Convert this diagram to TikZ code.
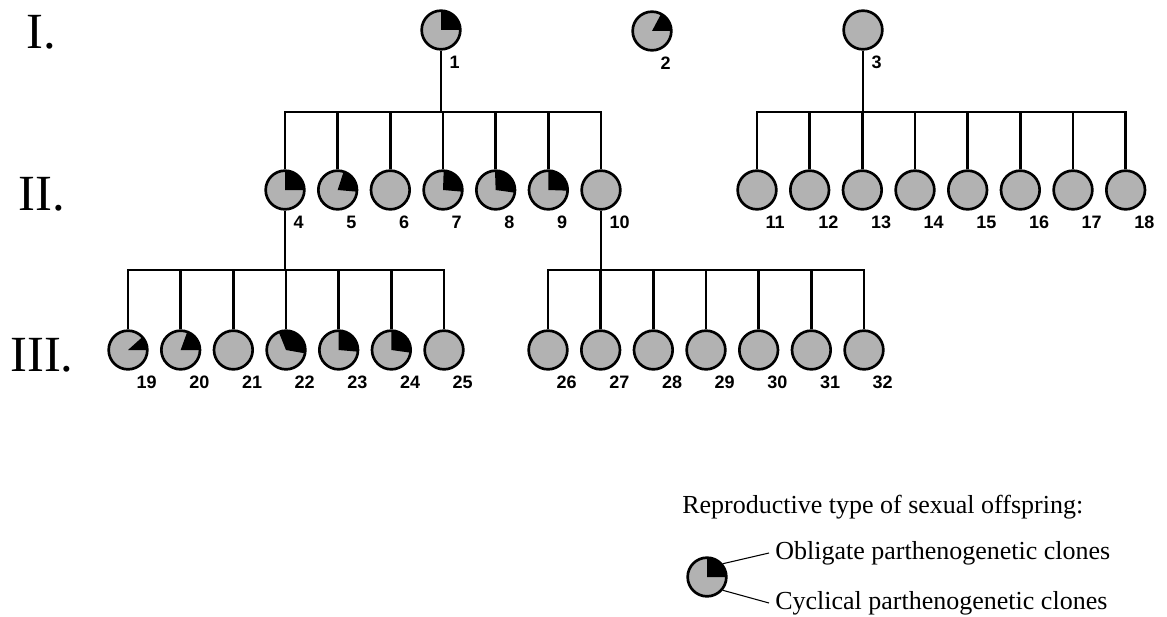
\documentclass[tikz,border=0pt]{standalone}
\usepackage{fontspec}
\setmainfont{Liberation Serif}
\newfontfamily\numfamily{Liberation Sans}
\usepackage{xcolor}
\usepackage{tikz}
\usetikzlibrary{positioning}
\definecolor{clonegray}{RGB}{178,178,178}
\tikzset{
  clone/.style={circle, draw=black, line width=2pt, fill=clonegray,
                minimum size=29pt, inner sep=0pt},
  obl/.style 2 args={path picture={\fill[black] (path picture bounding box.center)
                -- ++(#1:20pt) arc[start angle=#1, end angle=#2, radius=20pt] -- cycle;}},
  num/.style={font=\numfamily\bfseries\fontsize{13.5}{14}\selectfont,
              inner sep=0pt, anchor=north west, label distance=5pt},
  lab/.style={label={[num, name=lab#1]-72:#1}},
  gen/.style={font=\fontsize{38}{40}\selectfont, inner sep=0pt},
  legend/.style={font=\fontsize{19.5}{22}\selectfont, inner sep=4.5pt, anchor=west},
  link/.style={line width=1.9pt},
  pointer/.style={line width=0.8pt}
}
\begin{document}
\begin{tikzpicture}[x=0.75pt, y=0.75pt, on grid, node distance=39.5pt]
  \useasboundingbox (0,0) rectangle (1167,-617);

  % generations
  \node[gen] (gen1) at (41,-32) {I.};
  \node[gen] (gen2) at (42,-194) {II.};
  \node[gen] (gen3) at (42,-355) {III.};

  % generation I
  \node[clone, obl={90}{0}, lab=1] (c1) at (441,-30) {};
  \node[clone, obl={62}{0}, lab=2] (c2) at (652,-31) {};
  \node[clone, lab=3] (c3) at (863,-30) {};

  % generation II, offspring of 1
  \node[clone, obl={90}{0}, lab=4] (c4) at (285,-190) {};
  \node[clone, obl={72}{-5}, lab=5, right=of c4] (c5) {};
  \node[clone, lab=6, right=of c5] (c6) {};
  \node[clone, obl={88}{-5}, lab=7, right=of c6] (c7) {};
  \node[clone, obl={92}{-8}, lab=8, right=of c7] (c8) {};
  \node[clone, obl={90}{-2}, lab=9, right=of c8] (c9) {};
  \node[clone, lab=10, right=of c9] (c10) {};

  % generation II, offspring of 3
  \node[clone, lab=11] (c11) at (757,-190) {};
  \node[clone, lab=12, right=of c11] (c12) {};
  \node[clone, lab=13, right=of c12] (c13) {};
  \node[clone, lab=14, right=of c13] (c14) {};
  \node[clone, lab=15, right=of c14] (c15) {};
  \node[clone, lab=16, right=of c15] (c16) {};
  \node[clone, lab=17, right=of c16] (c17) {};
  \node[clone, lab=18, right=of c17] (c18) {};

  % generation III, offspring of 4
  \node[clone, obl={42}{0}, lab=19] (c19) at (128,-350) {};
  \node[clone, obl={70}{0}, lab=20, right=of c19] (c20) {};
  \node[clone, lab=21, right=of c20] (c21) {};
  \node[clone, obl={112}{-10}, lab=22, right=of c21] (c22) {};
  \node[clone, obl={90}{-5}, lab=23, right=of c22] (c23) {};
  \node[clone, obl={90}{-8}, lab=24, right=of c23] (c24) {};
  \node[clone, lab=25, right=of c24] (c25) {};

  % generation III, offspring of 10
  \node[clone, lab=26] (c26) at (548,-350) {};
  \node[clone, lab=27, right=of c26] (c27) {};
  \node[clone, lab=28, right=of c27] (c28) {};
  \node[clone, lab=29, right=of c28] (c29) {};
  \node[clone, lab=30, right=of c29] (c30) {};
  \node[clone, lab=31, right=of c30] (c31) {};
  \node[clone, lab=32, right=of c31] (c32) {};

  % bus points
  \coordinate (bus1) at (c1 |- 0,-112);
  \coordinate (bus3) at (c3 |- 0,-112);
  \coordinate (bus4) at (c4 |- 0,-270);
  \coordinate (bus10) at (c10 |- 0,-270);

  % lines 1 -> 4..10
  \draw[link] (c1) -- (bus1);
  \draw[link] (c4) |- (bus1) -| (c10);
  \draw[link] (c5) -- (c5 |- bus1);
  \draw[link] (c6) -- (c6 |- bus1);
  \draw[link] (c7) -- (c7 |- bus1);
  \draw[link] (c8) -- (c8 |- bus1);
  \draw[link] (c9) -- (c9 |- bus1);

  % lines 3 -> 11..18
  \draw[link] (c3) -- (bus3);
  \draw[link] (c11) |- (bus3) -| (c18);
  \draw[link] (c12) -- (c12 |- bus3);
  \draw[link] (c13) -- (c13 |- bus3);
  \draw[link] (c14) -- (c14 |- bus3);
  \draw[link] (c15) -- (c15 |- bus3);
  \draw[link] (c16) -- (c16 |- bus3);
  \draw[link] (c17) -- (c17 |- bus3);

  % lines 4 -> 19..25
  \draw[link] (c4) -- (bus4);
  \draw[link] (c19) |- (bus4) -| (c25);
  \draw[link] (c20) -- (c20 |- bus4);
  \draw[link] (c21) -- (c21 |- bus4);
  \draw[link] (c22) -- (c22 |- bus4);
  \draw[link] (c23) -- (c23 |- bus4);
  \draw[link] (c24) -- (c24 |- bus4);

  % lines 10 -> 26..32
  \draw[link] (c10) -- (bus10);
  \draw[link] (c26) |- (bus10) -| (c32);
  \draw[link] (c27) -- (c27 |- bus10);
  \draw[link] (c28) -- (c28 |- bus10);
  \draw[link] (c29) -- (c29 |- bus10);
  \draw[link] (c30) -- (c30 |- bus10);
  \draw[link] (c31) -- (c31 |- bus10);

  % legend
  \node[legend] (keytitle) at (676,-507) {Reproductive type of sexual offspring:};
  \node[clone, obl={90}{0}] (key) at (707,-577) {};
  \node[legend] (obltext) at (769,-553) {Obligate parthenogenetic clones};
  \node[legend] (cyctext) at (769,-603) {Cyclical parthenogenetic clones};
  \draw[pointer] (key.40) -- (obltext.west);
  \draw[pointer] (key.-40) -- (cyctext.west);

\end{tikzpicture}
\end{document}
